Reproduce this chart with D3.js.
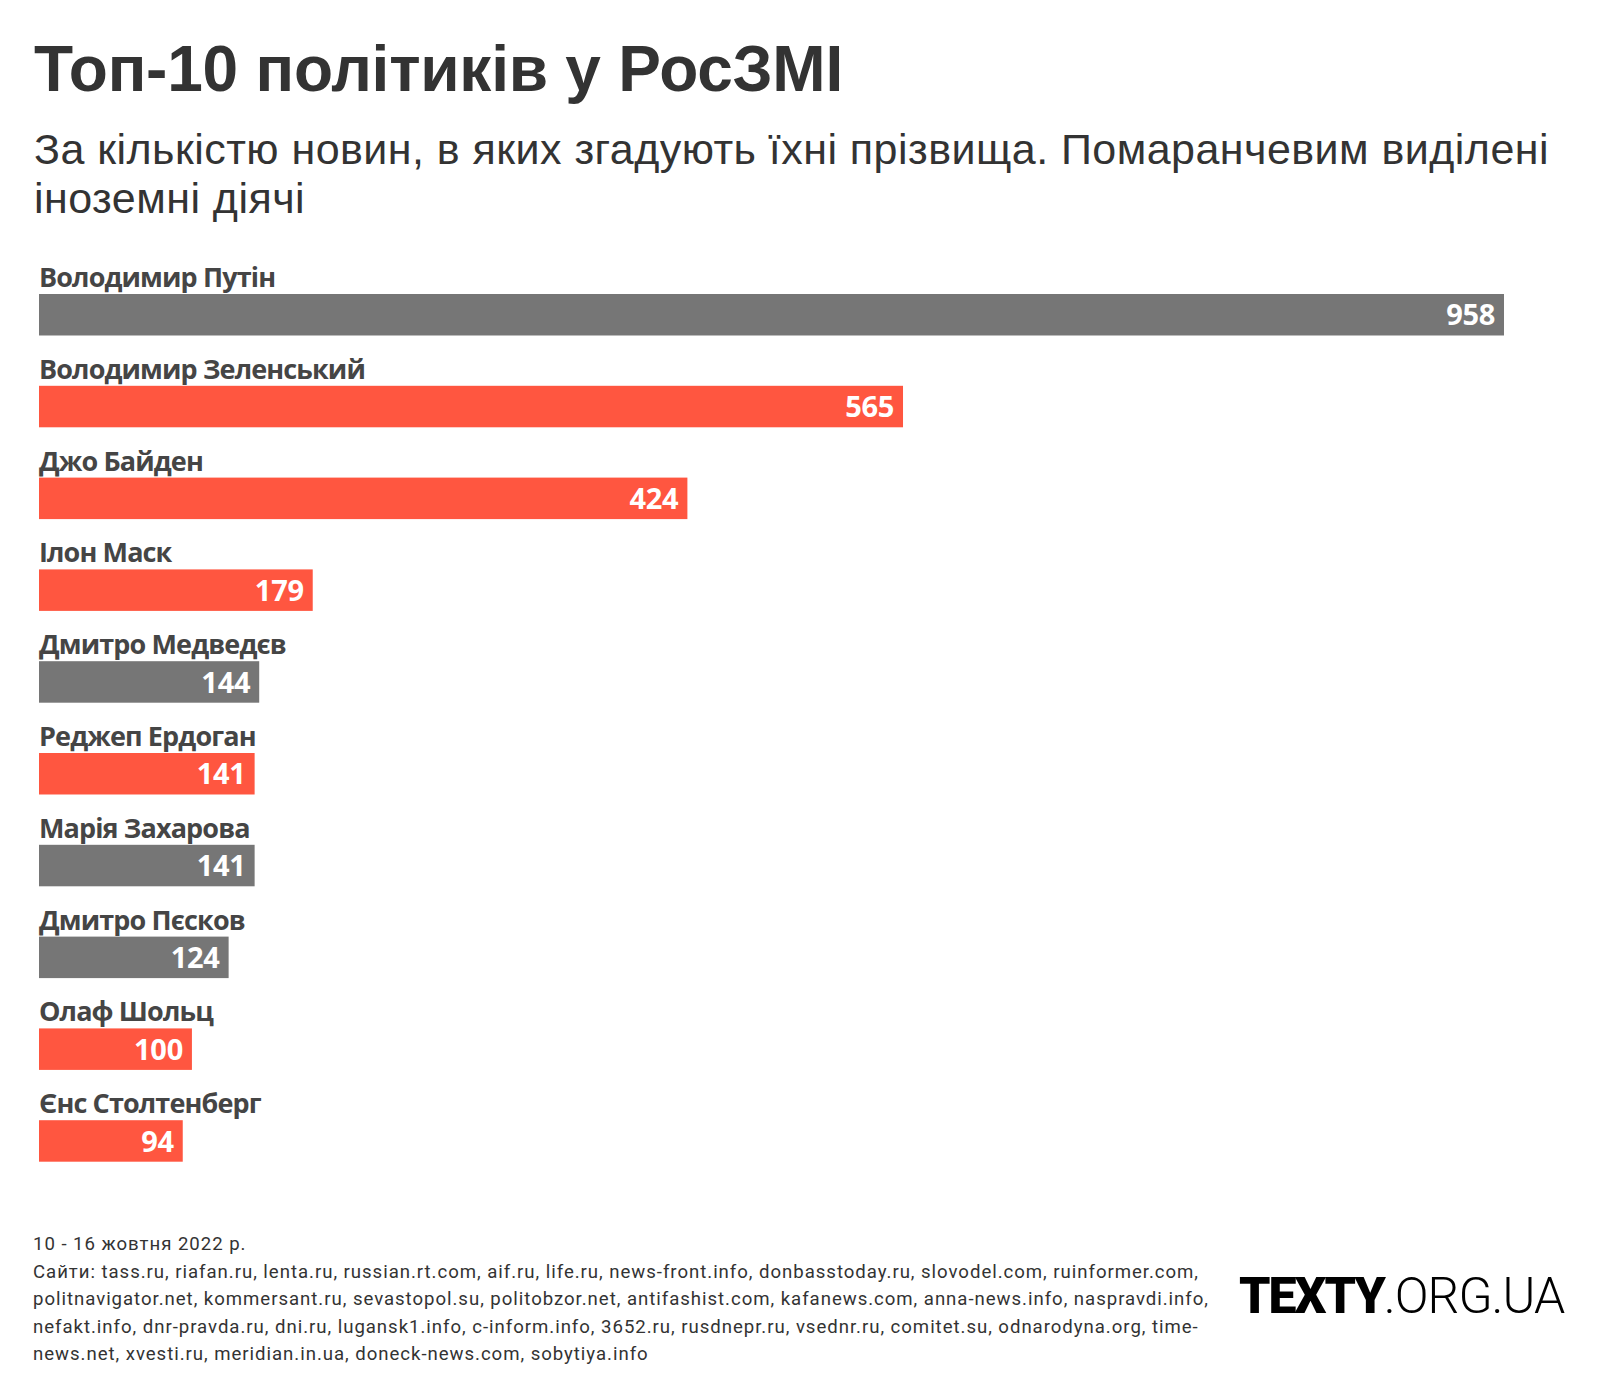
<!DOCTYPE html>
<html>
<head>
<meta charset="utf-8">
<script src="https://cdn.jsdelivr.net/npm/d3@7"></script>
<style>
  html, body { margin: 0; padding: 0; background: #fff; }
  svg { display: block; }
</style>
</head>
<body>
<svg id="chart" width="1600" height="1400"></svg>
<script>
// ---- DATA ----
const titleText = "Топ-10 політиків у РосЗМІ";
const subtitleLines = [
  "За кількістю новин, в яких згадують їхні прізвища. Помаранчевим виділені",
  "іноземні діячі"
];
const names = [
  "Володимир Путін",
  "Володимир Зеленський",
  "Джо Байден",
  "Ілон Маск",
  "Дмитро Медведєв",
  "Реджеп Ердоган",
  "Марія Захарова",
  "Дмитро Пєсков",
  "Олаф Шольц",
  "Єнс Столтенберг"
];
const values = [958, 565, 424, 179, 144, 141, 141, 124, 100, 94];
const groups = ["domestic", "foreign", "foreign", "foreign", "domestic", "foreign", "domestic", "domestic", "foreign", "foreign"];
const footerLines = [
  "10 - 16 жовтня 2022 р.",
  "Сайти: tass.ru, riafan.ru, lenta.ru, russian.rt.com, aif.ru, life.ru, news-front.info, donbasstoday.ru, slovodel.com, ruinformer.com,",
  "politnavigator.net, kommersant.ru, sevastopol.su, politobzor.net, antifashist.com, kafanews.com, anna-news.info, naspravdi.info,",
  "nefakt.info, dnr-pravda.ru, dni.ru, lugansk1.info, c-inform.info, 3652.ru, rusdnepr.ru, vsednr.ru, comitet.su, odnarodyna.org, time-",
  "news.net, xvesti.ru, meridian.in.ua, doneck-news.com, sobytiya.info"
];
const logoBold = "TEXTY";
const logoLight = ".ORG.UA";

// ---- CHART ----
const svg = d3.select("#chart");
const rows = names.map((n, i) => ({ name: n, value: values[i], group: groups[i] }));

// letter-spacing so the text spans the target width
function fitSpacing(sel, targetWidth) {
  sel.style("letter-spacing", "0px");
  const node = sel.node();
  const w = node.getComputedTextLength();
  const n = node.textContent.length;
  return (targetWidth - w) / n;
}

// Title
const title = svg.append("text")
  .attr("x", 34).attr("y", 91)
  .style("font-family", "'Liberation Sans', Arial, sans-serif")
  .style("font-weight", 700)
  .style("font-size", "64px")
  .style("fill", "#333333")
  .text(titleText);
title.style("letter-spacing", fitSpacing(title, 809) + "px");

// Subtitle
const sub0 = svg.append("text")
  .attr("x", 34).attr("y", 164)
  .style("font-family", "'Liberation Sans', Arial, sans-serif")
  .style("font-weight", 400)
  .style("font-size", "43px")
  .style("fill", "#333333")
  .text(subtitleLines[0]);
const subLs = fitSpacing(sub0, 1515);
sub0.style("letter-spacing", subLs + "px");
svg.append("text")
  .attr("x", 34).attr("y", 213)
  .style("font-family", "'Liberation Sans', Arial, sans-serif")
  .style("font-weight", 400)
  .style("font-size", "43px")
  .style("letter-spacing", subLs + "px")
  .style("fill", "#333333")
  .text(subtitleLines[1]);

// Scales
const x = d3.scaleLinear().domain([0, d3.max(values)]).range([39, 1504]);
const y = d3.scaleBand().domain(names).range([294, 1161.7]).paddingInner(0.548).paddingOuter(0);
const color = d3.scaleOrdinal().domain(["domestic", "foreign"]).range(["#767676", "#ff5640"]);

const g = svg.append("g");

g.selectAll("rect.bar")
  .data(rows)
  .join("rect")
  .attr("class", "bar")
  .attr("x", x(0))
  .attr("y", d => y(d.name))
  .attr("width", d => x(d.value) - x(0))
  .attr("height", y.bandwidth())
  .attr("fill", d => color(d.group));

// Name labels
const labels = g.selectAll("text.name")
  .data(rows)
  .join("text")
  .attr("class", "name")
  .attr("x", x(0))
  .attr("y", d => y(d.name) - 7)
  .style("font-family", "'Open Sans', 'Noto Sans', sans-serif")
  .style("font-weight", 700)
  .style("font-size", "27px")
  .style("fill", "#454545")
  .text(d => d.name);

const longest = labels.filter(d => d.name === "Володимир Зеленський");
const labLs = fitSpacing(longest, 326);
labels.style("letter-spacing", labLs + "px");

// Value labels
g.selectAll("text.val")
  .data(rows)
  .join("text")
  .attr("class", "val")
  .attr("x", d => x(d.value) - 9)
  .attr("y", d => y(d.name) + y.bandwidth() - 10)
  .attr("text-anchor", "end")
  .style("font-family", "'Open Sans', 'Noto Sans', sans-serif")
  .style("font-weight", 700)
  .style("font-size", "29px")
  .style("letter-spacing", "-0.3px")
  .style("fill", "#ffffff")
  .text(d => d.value);

// Footer
const footer = svg.append("g");
const fLines = footer.selectAll("text")
  .data(footerLines)
  .join("text")
  .attr("x", 33)
  .attr("y", (d, i) => 1250 + i * 27.5)
  .style("font-family", "Roboto, 'Liberation Sans', sans-serif")
  .style("font-weight", 400)
  .style("font-size", "18.6px")
  .style("fill", "#333333")
  .text(d => d);
const f1 = fLines.filter((d, i) => i === 1);
const footLs = fitSpacing(f1, 1166);
fLines.style("letter-spacing", footLs + "px");

// Logo
const logo = svg.append("text")
  .attr("x", 1239).attr("y", 1313)
  .style("font-family", "Roboto, 'Liberation Sans', sans-serif")
  .style("font-size", "50px")
  .style("fill", "#000000");
logo.append("tspan").style("font-weight", 900).style("letter-spacing", "-2px").text(logoBold);
logo.append("tspan").style("font-weight", 300).style("letter-spacing", "-1px").text(logoLight);
</script>
</body>
</html>
